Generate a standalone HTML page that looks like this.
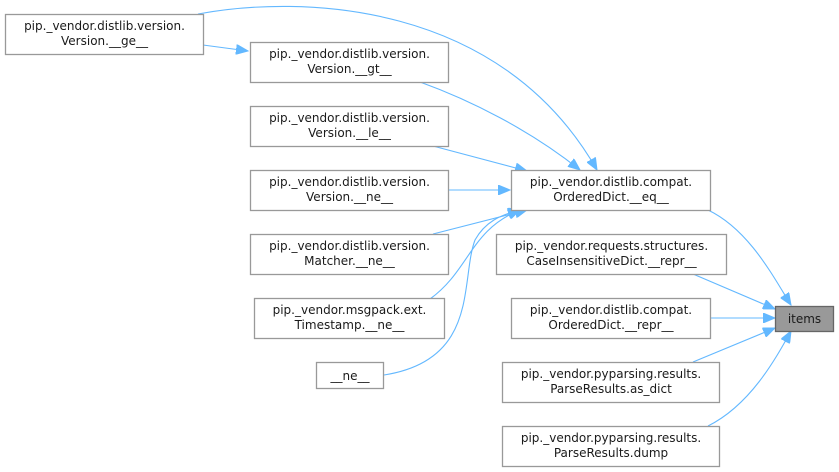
<!DOCTYPE html>
<html><head><meta charset="utf-8"><style>
html,body{margin:0;padding:0;background:#fff;}
svg{display:block}
text{font-family:"DejaVu Sans","Liberation Sans",sans-serif;font-size:12px;fill:#1a1a1a;text-anchor:middle}
.n{fill:#fff;stroke:#999;stroke-width:1.3}
.e{fill:none;stroke:#63b8ff;stroke-width:1.1}
</style></head><body>
<svg width="839" height="472" viewBox="0 0 839 472" xmlns="http://www.w3.org/2000/svg">
<defs><marker id="a" markerWidth="13" markerHeight="10" refX="12" refY="5" orient="auto" markerUnits="userSpaceOnUse"><path d="M0,0 L12,5 L0,10 z" fill="#63b8ff" stroke="#63b8ff"/></marker></defs>
<path class="e" marker-end="url(#a)" d="M198,14 C300,-5 500,0 597,170"/>
<path class="e" marker-end="url(#a)" d="M203,45 L248,51"/>
<path class="e" marker-end="url(#a)" d="M420,82 C470,100 530,130 580,170"/>
<path class="e" marker-end="url(#a)" d="M433,146 L527,171"/>
<path class="e" marker-end="url(#a)" d="M448,190 L510,190"/>
<path class="e" marker-end="url(#a)" d="M433,234 L527,210"/>
<path class="e" marker-end="url(#a)" d="M430,299 C470,270 470,230 520,210"/>
<path class="e" marker-end="url(#a)" d="M384,375 C480,360 460,280 475,240 C485,222 500,215 520,210"/>
<path class="e" marker-end="url(#a)" d="M708,210 C750,230 775,280 791,305"/>
<path class="e" marker-end="url(#a)" d="M693,274 L775,309"/>
<path class="e" marker-end="url(#a)" d="M710,318 L775,318"/>
<path class="e" marker-end="url(#a)" d="M693,362 L775,328"/>
<path class="e" marker-end="url(#a)" d="M708,426 C750,405 775,360 791,331"/>
<rect class="n" x="5.5" y="14.5" width="198" height="40"/><text x="104.5" y="30">pip._vendor.distlib.version.</text><text x="104.5" y="45">Version.__ge__</text>
<rect class="n" x="250.5" y="42.5" width="198" height="40"/><text x="349.5" y="58">pip._vendor.distlib.version.</text><text x="349.5" y="73">Version.__gt__</text>
<rect class="n" x="250.5" y="106.5" width="198" height="40"/><text x="349.5" y="122">pip._vendor.distlib.version.</text><text x="349.5" y="137">Version.__le__</text>
<rect class="n" x="250.5" y="170.5" width="198" height="40"/><text x="349.5" y="186">pip._vendor.distlib.version.</text><text x="349.5" y="201">Version.__ne__</text>
<rect class="n" x="250.5" y="234.5" width="198" height="40"/><text x="349.5" y="250">pip._vendor.distlib.version.</text><text x="349.5" y="265">Matcher.__ne__</text>
<rect class="n" x="254.5" y="298.5" width="190" height="40"/><text x="349.5" y="314">pip._vendor.msgpack.ext.</text><text x="349.5" y="329">Timestamp.__ne__</text>
<rect class="n" x="316.5" y="362.5" width="67" height="26"/><text x="350" y="380">__ne__</text>
<rect class="n" x="511.5" y="170.5" width="199" height="40"/><text x="611" y="186">pip._vendor.distlib.compat.</text><text x="611" y="201">OrderedDict.__eq__</text>
<rect class="n" x="496.5" y="234.5" width="230" height="40"/><text x="611.5" y="250">pip._vendor.requests.structures.</text><text x="611.5" y="265">CaseInsensitiveDict.__repr__</text>
<rect class="n" x="511.5" y="298.5" width="199" height="40"/><text x="611" y="314">pip._vendor.distlib.compat.</text><text x="611" y="329">OrderedDict.__repr__</text>
<rect class="n" x="502.5" y="362.5" width="217" height="40"/><text x="611" y="378">pip._vendor.pyparsing.results.</text><text x="611" y="393">ParseResults.as_dict</text>
<rect class="n" x="502.5" y="426.5" width="217" height="40"/><text x="611" y="442">pip._vendor.pyparsing.results.</text><text x="611" y="457">ParseResults.dump</text>
<rect x="775.5" y="306.5" width="58" height="25" fill="#999" stroke="#666" stroke-width="1.3"/><text x="804.5" y="323">items</text>
</svg>
</body></html>
